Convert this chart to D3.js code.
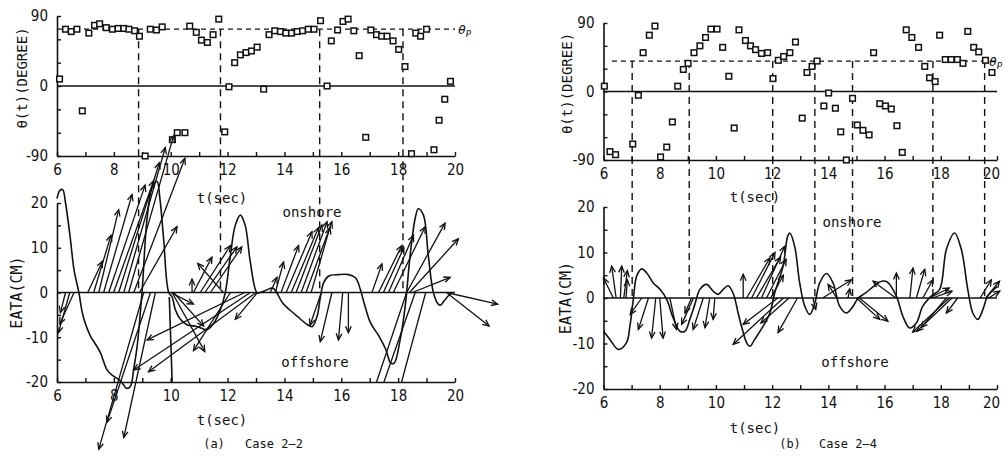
<!DOCTYPE html>
<html>
<head>
<meta charset="utf-8">
<script src="https://cdn.jsdelivr.net/npm/d3@7"></script>
<style>
  body { margin: 0; background: #fff; }
  svg { display: block; }
  .tick text { font-family: "DejaVu Sans Condensed", "DejaVu Sans", sans-serif; font-size: 15px; fill: #111; }
  .lbl { font-family: "DejaVu Sans Mono", monospace; font-size: 14px; fill: #111; }
</style>
</head>
<body>
<div id="chart"></div>
<script>
// ---- data ----
const xTicks = [6, 8, 10, 12, 14, 16, 18, 20];
const thetaTicks = [90, 0, -90];
const etaTicks = [20, 10, 0, -10, -20];

// Case 2-2 : direction theta(t) in degrees
const thetaA = [[6.09,9],[6.3,73],[6.5,70],[6.7,73],[6.89,-32],[7.12,68],[7.32,78],[7.5,80],[7.73,75],[7.95,73],[8.15,74],[8.35,74],[8.53,73],[8.73,71],[8.9,64],[9.1,-90],[9.28,73],[9.5,72],[9.7,76],[10.06,-69],[10.23,-60],[10.5,-60],[10.67,77],[10.9,69],[11.08,59],[11.29,56],[11.49,66],[11.69,86],[11.9,-59],[12.05,-1],[12.25,30],[12.45,40],[12.65,43],[12.84,45],[13.04,50],[13.27,-4],[13.46,66],[13.66,71],[13.86,70],[14.05,68],[14.25,68],[14.45,70],[14.64,71],[14.84,73],[15.04,73],[15.27,84],[15.5,0],[15.65,58],[15.87,72],[16.06,83],[16.24,86],[16.44,71],[16.63,39],[16.86,-66],[17.04,72],[17.24,66],[17.42,64],[17.61,64],[17.82,58],[18.02,47],[18.24,25],[18.47,-87],[18.62,68],[18.79,64],[19.0,73],[19.26,-82],[19.44,-44],[19.64,-17],[19.84,6]];
// Case 2-2 : surface elevation eta (cm)
const etaA = [[6,21],[6.1,22.8],[6.2,23],[6.3,20],[6.47,12],[6.6,5],[6.77,0],[6.89,-4.5],[7.0,-7],[7.18,-9.8],[7.35,-11.5],[7.53,-13.5],[7.76,-17.3],[7.95,-18.5],[8.11,-19.2],[8.27,-20],[8.44,-21.4],[8.58,-21],[8.7,-17],[8.82,-12],[8.99,0],[9.17,16.6],[9.35,23.5],[9.52,24.8],[9.62,21],[9.75,12],[9.93,0],[10.05,-1],[10.16,-3.8],[10.34,-6],[10.57,-7.2],[10.92,-7.6],[11.28,-8.3],[11.51,-6.9],[11.75,-3.8],[11.92,0],[12.1,8.3],[12.27,15],[12.45,17.3],[12.62,15],[12.8,6.8],[13.03,0],[13.15,0],[13.35,0.5],[13.58,1],[13.7,0.3],[13.93,-2.3],[14.17,-3.8],[14.52,-5.7],[14.81,-7.2],[14.98,-7.6],[15.15,-5.3],[15.27,-0.8],[15.38,2.2],[15.56,3.7],[15.91,4],[16.26,4],[16.5,3.3],[16.67,0.7],[16.8,-2.3],[17.03,-6.8],[17.33,-9.8],[17.57,-12.8],[17.74,-15.8],[17.86,-15.8],[18.07,-10.6],[18.25,-3],[18.42,8.2],[18.6,16.6],[18.71,18.7],[18.89,17.3],[19.06,8.3],[19.24,0],[19.41,-2.6],[19.5,-2.8],[19.6,-2],[19.82,-0.4],[19.9,0]];
const etaSpurA = [[9.95,-1],[10.05,-20]];
// Case 2-2 : velocity arrows [start t, tip t, tip eta]
const arrowsA = [[6.3,6.12,-4.5],[6.45,6.05,-9],[6.6,6.1,-7],
  [7.08,7.6,7],[7.29,7.9,12.8],[7.47,8.17,18.5],[7.64,8.64,21.9],[7.82,9.1,24],[7.99,9.4,25],[8.17,9.6,29],[8.35,9.81,32.4],[8.52,10.1,35],[8.7,10.5,30],[8.9,10.22,14.7],
  [9.05,7.47,-35],[9.29,7.76,-29],[9.46,8.35,-32.4],
  [10.0,10.8,-2.6],[10.1,11.16,-7.5],[10.05,11.2,-13.2],
  [10.75,10.75,3],[11.85,10.95,6.5],[10.8,11.45,7.9],[11.04,12.1,10.5],[11.2,12.33,10.2],[11.4,12.5,10.2],
  [12.1,10.8,-13],[12.6,9.17,-10.6],[12.8,8.7,-17.3],[13.0,9.22,-17.7],[13.05,12.27,-6],
  [13.5,13.74,3.4],[13.68,13.97,6.8],[13.88,14.5,10.5],[14.06,14.97,13.6],[14.24,15.2,14.5],[14.41,15.32,15.1],[14.59,15.5,15.8],[14.76,15.67,15.8],[14.94,15.6,14.5],
  [15.3,14.9,-7.3],[15.67,15.26,-11],[16.05,15.9,-10.6],[16.25,16.25,-9],
  [17.08,17.43,6.4],[17.31,18.13,10.5],[17.48,18.2,10],[17.66,18.54,12.8],[17.83,18.95,14.7],[18.3,19.65,15.5],[18.4,20.12,12],[18.5,19.83,3.4],
  [19.7,21.5,-2.6],[19.7,21.2,-7.5]];
const cutArrowsA = [[18.3,17.24,-20],[18.6,17.5,-20],[18.97,18.12,-20]];
const dashA = [8.87, 11.75, 15.24, 18.17];
const thetaPA = 73;

// Case 2-4
const thetaB = [[6.03,7],[6.23,-79],[6.43,-83],[7.04,-69],[7.24,-5],[7.41,51],[7.63,74],[7.83,86],[8.03,-86],[8.25,-73],[8.45,-40],[8.64,7],[8.84,29],[9.01,37],[9.22,51],[9.43,60],[9.63,71],[9.82,82],[10.04,82],[10.24,58],[10.46,20],[10.65,-48],[10.82,81],[11.05,67],[11.23,60],[11.41,55],[11.62,50],[11.84,51],[12.03,17],[12.22,41],[12.41,46],[12.63,51],[12.83,65],[13.07,-35],[13.24,25],[13.42,33],[13.6,40],[13.84,-19],[14.01,-2],[14.25,-22],[14.44,-53],[14.64,-90],[14.86,-9],[15.03,-44],[15.23,-51],[15.45,-57],[15.61,51],[15.83,-16],[16.03,-19],[16.24,-23],[16.44,-45],[16.63,-80],[16.77,81],[16.97,71],[17.21,58],[17.43,33],[17.6,18],[17.8,13],[17.96,74],[18.16,42],[18.37,42],[18.59,42],[18.79,37],[18.96,79],[19.17,58],[19.35,52],[19.59,41],[19.82,25]];
const etaB = [[6,-7.3],[6.23,-9.1],[6.53,-11.3],[6.82,-9.8],[6.94,-6.2],[7.06,-0.3],[7.18,4.8],[7.36,6.4],[7.54,5.5],[7.77,3.3],[8.01,1.9],[8.25,-0.3],[8.48,-4.4],[8.72,-7.3],[8.9,-7.3],[9.07,-4.7],[9.25,-1.4],[9.43,1.9],[9.67,3],[9.9,1.5],[10.08,0.8],[10.26,1.9],[10.43,2.7],[10.61,1.1],[10.79,-3.3],[10.91,-6.2],[11.09,-9.8],[11.21,-10.6],[11.38,-9.1],[11.68,-6.2],[11.92,-3.3],[12.09,1.1],[12.39,7],[12.55,13.5],[12.63,14.3],[12.8,11.4],[12.98,3.3],[13.16,-1.8],[13.34,-3.6],[13.52,-1.1],[13.69,3.3],[13.93,5.4],[14.17,3.3],[14.4,-1.8],[14.64,-3.3],[14.88,-1.8],[15.06,0],[15.3,1],[15.6,2.5],[15.9,3.7],[16.1,3.5],[16.42,0.4],[16.65,-4],[16.89,-6.6],[17.13,-5.5],[17.36,-1.8],[17.66,0.4],[17.96,1.9],[18.2,10.7],[18.49,14.3],[18.73,10.7],[18.96,1.9],[19.14,-3.3],[19.32,-4.7],[19.5,-2.5],[19.67,0.4],[20,2.5]];
const arrowsB = [[6.35,6.0,4.4],[6.45,6.29,7],[6.6,6.65,7],[6.72,6.85,6],[6.8,6.85,4],
  [7.36,6.95,-3.6],[7.6,7.24,-6.9],[7.86,7.71,-8.8],[8.0,8.12,-8.8],[8.36,8.6,-6.9],[9.13,8.9,-3.3],[9.2,8.78,-5.8],[9.55,9.19,-6.9],[9.78,9.61,-6.5],[9.96,9.9,-4.7],
  [10.97,10.97,5.2],[11.09,11.92,8.8],[11.27,12.1,10],[11.44,12.3,9],[11.62,12.45,11.4],[11.8,12.5,8.5],[11.95,12.4,5],
  [12.2,10.97,-5.8],[12.4,10.61,-10.2],[12.9,12.21,-7.6],[12.6,11.6,-5.5],[13.45,13.55,-2.5],
  [14.3,13.99,3],[13.8,14.82,4],[14.7,14.76,2],[15.0,15.83,-4.7],[15.1,16.12,-5.1],[16.4,15.59,3.7],[16.42,16.42,5.5],[16.9,17.01,6.6],[17.13,17.43,6.3],[17.36,17.72,4],
  [17.6,18.3,2.2],[17.7,18.4,1.5],[18.3,17.0,-7.5],[18.4,17.15,-7.3],[18.2,17.3,-6.5],[18.6,18.2,-3.3],
  [19.4,19.8,4],[19.6,20.09,3.7],[19.7,20.1,1.5]];
const dashB = [7.02, 9.05, 12.02, 13.52, 14.86, 17.72, 19.56];
const thetaPB = 40;

const W = 1004, H = 456;
const svg = d3.select("#chart").append("svg").attr("width", W).attr("height", H);

const panels = [
  { x: [57, 455], top: [156, 16], bot: [382, 203], theta: thetaA, eta: etaA, spur: etaSpurA, arrows: arrowsA, cut: cutArrowsA,
    dash: dashA, thetaP: thetaPA, pStart: 6, pLabelX: 458, caption: ["(a)", "Case 2\u20132"], capX: [214, 274],
    tsecTop: [222, 198], tsecBot: [222, 420], on: [312, 212], off: [315, 362], yLabX: 22, yLabX2: 17, lastDx: 0 },
  { x: [603.5, 997], top: [160, 23], bot: [389, 207], theta: thetaB, eta: etaB, spur: null, arrows: arrowsB, cut: [],
    dash: dashB, thetaP: thetaPB, pStart: 6.3, pLabelX: 989, caption: ["(b)", "Case 2\u20134"], capX: [790, 848],
    tsecTop: [755, 197], tsecBot: [755, 428], on: [852, 222], off: [855, 362], yLabX: 567, yLabX2: 566, lastDx: -6 }
];

function arrow(g, x0, y0, x1, y1, head) {
  g.append("line").attr("x1", x0).attr("y1", y0).attr("x2", x1).attr("y2", y1);
  if (!head) return;
  const a = Math.atan2(y1 - y0, x1 - x0), L = 7, s = 0.42;
  const p = d3.path();
  p.moveTo(x1 - L * Math.cos(a - s), y1 - L * Math.sin(a - s));
  p.lineTo(x1, y1);
  p.lineTo(x1 - L * Math.cos(a + s), y1 - L * Math.sin(a + s));
  g.append("path").attr("d", p.toString()).attr("fill", "none");
}

panels.forEach(P => {
  const x = d3.scaleLinear().domain([6, 20]).range(P.x);
  const yT = d3.scaleLinear().domain([-90, 90]).range(P.top);
  const yB = d3.scaleLinear().domain([-20, 20]).range(P.bot);
  const g = svg.append("g").attr("stroke", "#111").attr("stroke-width", 1.4);

  // axes
  const xa = d3.axisBottom(x).tickValues(d3.range(6, 20.01, 1)).tickSizeInner(-4).tickSizeOuter(0).tickPadding(8)
    .tickFormat(d => xTicks.includes(d) ? d : "");
  [yT(-90), yB(-20)].forEach(yy => {
    const ax = g.append("g").attr("transform", `translate(0,${yy})`).call(xa);
    ax.selectAll(".tick text").filter(d => d === 20).attr("dx", P.lastDx);
  });
  g.append("g").attr("transform", `translate(${x(6)},0)`)
    .call(d3.axisLeft(yT).tickValues(d3.range(-90, 91, 30)).tickSizeInner(-4).tickSizeOuter(0).tickPadding(9)
      .tickFormat(d => thetaTicks.includes(d) ? d : ""));
  g.append("g").attr("transform", `translate(${x(6)},0)`)
    .call(d3.axisLeft(yB).tickValues(d3.range(-20, 21, 5)).tickSizeInner(-4).tickSizeOuter(0).tickPadding(9)
      .tickFormat(d => etaTicks.includes(d) ? d : ""));
  g.selectAll(".domain").attr("stroke", "#111").attr("stroke-width", 1.6);
  g.selectAll(".tick line").attr("stroke", "#111");
  g.selectAll(".tick text").attr("stroke", "none");

  // zero lines
  g.append("line").attr("x1", x(6)).attr("x2", x(20)).attr("y1", yT(0)).attr("y2", yT(0));
  g.append("line").attr("x1", x(6)).attr("x2", x(20)).attr("y1", yB(0)).attr("y2", yB(0));

  // theta_p and dashed verticals
  g.append("line").attr("x1", x(P.pStart)).attr("x2", x(20)).attr("y1", yT(P.thetaP)).attr("y2", yT(P.thetaP))
    .attr("stroke-dasharray", "5,4").attr("stroke-width", 1.2);
  g.selectAll(null).data(P.dash).enter().append("line")
    .attr("x1", d => x(d)).attr("x2", d => x(d)).attr("y1", yT(P.thetaP)).attr("y2", yB(0))
    .attr("stroke-dasharray", "7,5").attr("stroke-width", 1.4);

  // theta points
  g.selectAll(null).data(P.theta).enter().append("rect")
    .attr("x", d => x(d[0]) - 2.8).attr("y", d => yT(d[1]) - 2.8)
    .attr("width", 5.6).attr("height", 5.6).attr("fill", "#fff").attr("stroke-width", 1.5);

  // eta curve
  const line = d3.line().x(d => x(d[0])).y(d => yB(d[1])).curve(d3.curveCatmullRom.alpha(0.5));
  g.append("path").attr("d", line(P.eta)).attr("fill", "none").attr("stroke-width", 1.6);
  if (P.spur) g.append("path").attr("d", d3.line().x(d => x(d[0])).y(d => yB(d[1]))(P.spur)).attr("fill", "none").attr("stroke-width", 1.6);

  // arrows
  const ga = g.append("g").attr("stroke-width", 1.3);
  P.arrows.forEach(a => arrow(ga, x(a[0]), yB(0), x(a[1]), yB(a[2]), true));
  P.cut.forEach(a => arrow(ga, x(a[0]), yB(0), x(a[1]), yB(a[2]), false));

  // texts
  const t = svg.append("g");
  t.append("text").attr("class", "lbl").attr("x", P.tsecTop[0]).attr("y", P.tsecTop[1]).attr("text-anchor", "middle").attr("dy", "0.35em").text("t(sec)");
  t.append("text").attr("class", "lbl").attr("x", P.tsecBot[0]).attr("y", P.tsecBot[1]).attr("text-anchor", "middle").attr("dy", "0.35em").text("t(sec)");
  t.append("text").attr("class", "lbl").attr("x", P.on[0]).attr("y", P.on[1]).attr("text-anchor", "middle").attr("dy", "0.35em").text("onshore");
  t.append("text").attr("class", "lbl").attr("x", P.off[0]).attr("y", P.off[1]).attr("text-anchor", "middle").attr("dy", "0.35em").text("offshore");
  t.append("text").attr("class", "lbl").attr("transform", `translate(${P.yLabX},${(yT(90) + yT(-90)) / 2 - 8}) rotate(-90)`)
    .attr("text-anchor", "middle").attr("dy", "0.35em").text("\u03b8(t)(DEGREE)");
  t.append("text").attr("class", "lbl").attr("transform", `translate(${P.yLabX2},${yB(0)}) rotate(-90)`)
    .attr("text-anchor", "middle").attr("dy", "0.35em").style("font-size", "15px").text("EATA(CM)");
  const tp = t.append("text").attr("class", "lbl").attr("x", P.pLabelX).attr("y", yT(P.thetaP)).attr("dy", "0.35em")
    .style("font-style", "italic").style("font-size", "13px").text("\u03b8");
  tp.append("tspan").attr("dy", "3").style("font-size", "9px").text("P");
  t.append("text").attr("class", "lbl").attr("x", P.capX[0]).attr("y", 444).attr("text-anchor", "middle").attr("dy", "0.35em").style("font-size", "12px").text(P.caption[0]);
  t.append("text").attr("class", "lbl").attr("x", P.capX[1]).attr("y", 444).attr("text-anchor", "middle").attr("dy", "0.35em").style("font-size", "12px").text(P.caption[1]);
});
</script>
</body>
</html>
